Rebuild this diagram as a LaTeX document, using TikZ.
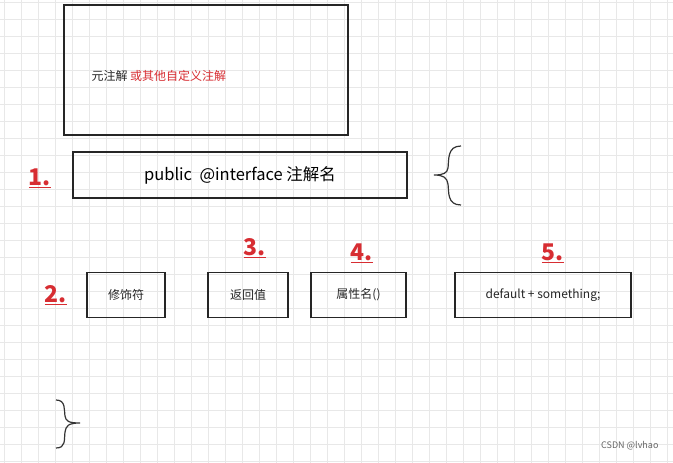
\documentclass[tikz,border=0pt]{standalone}
\usepackage{fontspec}
\setmainfont{Noto Sans CJK SC}
\definecolor{myred}{RGB}{215,45,50}
\begin{document}
\begin{tikzpicture}[x=1pt,y=-1pt,
  box/.style={draw=black!85,line width=1.3pt,inner sep=0pt},
  num/.style={text=myred,font=\bfseries\fontsize{23}{23}\selectfont},
  lbl/.style={font=\fontsize{12}{14}\selectfont,text=black!85}]
\useasboundingbox (0,0) rectangle (673,463);
\fill[white] (0,0) rectangle (673,463);
\foreach \i in {0,...,40} {\draw[black!9,line width=0.6pt] (\i*17+4,0) -- (\i*17+4,463);}
\foreach \i in {0,...,28} {\draw[black!9,line width=0.6pt] (0,\i*17+2) -- (673,\i*17+2);}
\node[box,minimum width=284pt,minimum height=130pt] (top) at (206,70) {};
\node[lbl,anchor=west] (t1) at (88,76) {元注解 \textcolor{myred}{或其他自定义注解}};
\node[box,minimum width=334pt,minimum height=46pt,font=\fontsize{16.5}{18}\selectfont] (b1) at (240,175) {public\ \ @interface 注解名};
\node[num] (n1) at (40,178) {\underline{1.}};
\draw[black!80,line width=1.2pt] (461,146) .. controls (447,146) and (449,160) .. (448,168) .. controls (447,173) and (444,175) .. (434,175) .. controls (444,175) and (447,178) .. (448,184) .. controls (449,192) and (447,205) .. (461,205);
\node[box,minimum width=78pt,minimum height=45pt,lbl] (m) at (126,295) {修饰符};
\node[box,minimum width=80pt,minimum height=45pt,lbl] (r) at (248,295) {返回值};
\node[box,minimum width=95pt,minimum height=45pt,lbl] (a) at (358.5,295) {属性名()};
\node[box,minimum width=176pt,minimum height=45pt,lbl] (d) at (543,295) {default + something;};
\node[num] (n2) at (56,295) {\underline{2.}};
\node[num] (n3) at (255,248) {\underline{3.}};
\node[num] (n4) at (362,253) {\underline{4.}};
\node[num] (n5) at (553,253) {\underline{5.}};
\draw[black!80,line width=1.2pt] (56,400) .. controls (66,400) and (64,410) .. (65,416) .. controls (66,421) and (68,423) .. (80,423) .. controls (68,423) and (66,426) .. (65,432) .. controls (64,440) and (66,448) .. (56,448);
\node[font=\fontsize{9}{10}\selectfont,text=black!60,anchor=east] (wm) at (662,446) {CSDN @lvhao};
\end{tikzpicture}
\end{document}
